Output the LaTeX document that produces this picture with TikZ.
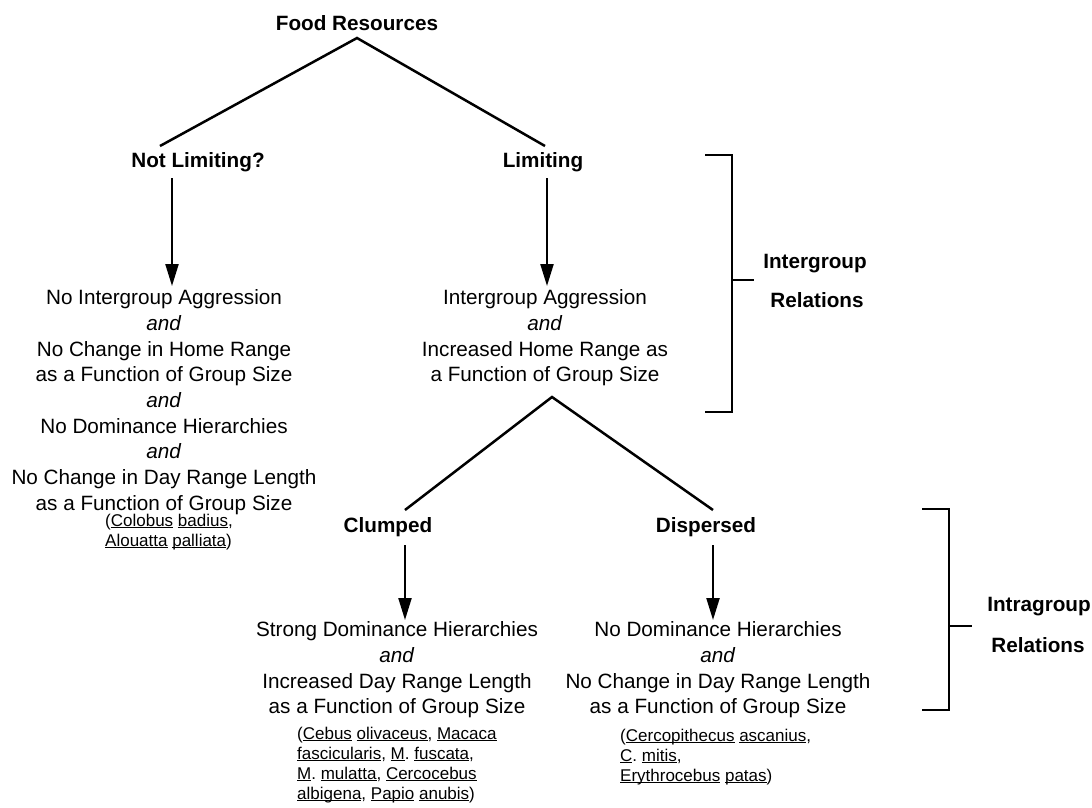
\documentclass[tikz,border=0pt]{standalone}
\usepackage{fontspec}
\setmainfont{Liberation Sans}
\usetikzlibrary{arrows.meta}
\frenchspacing
\newcommand\ulw[1]{\setbox0\hbox{#1}\rlap{\rule[-1.8pt]{\wd0}{0.9pt}}\box0\relax}
\begin{document}
\begin{tikzpicture}[x=1pt,y=-1pt,
  body/.style={font=\fontsize{20.7}{25.7}\selectfont, align=center, inner sep=0pt, anchor=north},
  lab/.style={font=\fontsize{20.7}{24}\selectfont\bfseries, inner sep=0pt},
  spec/.style={font=\fontsize{17}{20}\selectfont, align=left, inner sep=0pt, anchor=north west},
  ln/.style={line width=2.5pt},
  arr/.style={line width=2.2pt, -{Triangle[width=13pt,length=22pt]}},
  brk/.style={line width=2.2pt}]
\useasboundingbox (0,0) rectangle (1092,807);

% top level
\node[lab] (food) at (357,23) {Food Resources};
\coordinate (apex1) at (357,38);
\coordinate (l1) at (160,146);
\coordinate (r1) at (545,146);
\draw[ln] (l1) -- (apex1) -- (r1);
\node[lab] (notlim) at (198,162) {Not Limiting?};
\node[lab] (lim) at (543,162) {Limiting};

\coordinate (a1s) at (172,178);
\coordinate (a1e) at (172,286);
\coordinate (a2s) at (547,178);
\coordinate (a2e) at (547,286);
\draw[arr] (a1s) -- (a1e);
\draw[arr] (a2s) -- (a2e);

\node[body] (nl) at (164,289.5) {No Intergroup Aggression\\ \textit{and}\\ No Change in Home Range\\ as a Function of Group Size\\ \textit{and}\\ No Dominance Hierarchies\\ \textit{and}\\ No Change in Day Range Length\\ as a Function of Group Size};
\node[body] (lb) at (545,289.5) {Intergroup Aggression\\ \textit{and}\\ Increased Home Range as\\ a Function of Group Size};

\node[spec] (sp1) at (105,514) {(\ulw{Colobus} \ulw{badius},\\ \ulw{Alouatta} \ulw{palliata})};

% second level
\coordinate (apex2) at (552,397);
\coordinate (l2) at (405,510);
\coordinate (r2) at (713,510);
\draw[ln] (l2) -- (apex2) -- (r2);
\node[lab] (clump) at (388,527) {Clumped};
\node[lab] (disp) at (706,527) {Dispersed};

\coordinate (a3s) at (405,545);
\coordinate (a3e) at (405,620);
\coordinate (a4s) at (713,545);
\coordinate (a4e) at (713,620);
\draw[arr] (a3s) -- (a3e);
\draw[arr] (a4s) -- (a4e);

\node[body] (cb) at (397,621.5) {Strong Dominance Hierarchies\\ \textit{and}\\ Increased Day Range Length\\ as a Function of Group Size};
\node[body] (db) at (718,621.5) {No Dominance Hierarchies\\ \textit{and}\\ No Change in Day Range Length\\ as a Function of Group Size};

\node[spec] (sp2) at (297,727) {(\ulw{Cebus} \ulw{olivaceus}, \ulw{Macaca}\\ \ulw{fascicularis}, \ulw{M}. \ulw{fuscata},\\ \ulw{M}. \ulw{mulatta}, \ulw{Cercocebus}\\ \ulw{albigena}, \ulw{Papio} \ulw{anubis})};
\node[spec] (sp3) at (620,729) {(\ulw{Cercopithecus} \ulw{ascanius},\\ \ulw{C}. \ulw{mitis},\\ \ulw{Erythrocebus} \ulw{patas})};

% brackets
\coordinate (b1t) at (732,155);
\coordinate (b1b) at (732,412);
\coordinate (b1m) at (732,280);
\draw[brk] ([xshift=-27pt]b1t) -- (b1t) -- (b1b) -- ([xshift=-27pt]b1b);
\draw[brk] (b1m) -- ([xshift=22pt]b1m);
\node[lab] (inter) at (815,264) {Intergroup};
\node[lab] (rel1) at (817,300) {Relations};

\coordinate (b2t) at (949,509);
\coordinate (b2b) at (949,710);
\coordinate (b2m) at (949,626);
\draw[brk] ([xshift=-27pt]b2t) -- (b2t) -- (b2b) -- ([xshift=-27pt]b2b);
\draw[brk] (b2m) -- ([xshift=23pt]b2m);
\node[lab] (intra) at (1039,607) {Intragroup};
\node[lab] (rel2) at (1038,645) {Relations};
\end{tikzpicture}
\end{document}
